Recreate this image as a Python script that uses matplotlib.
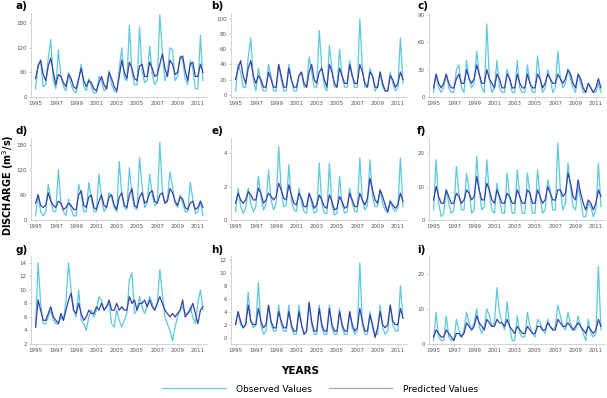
import numpy as np
import matplotlib
matplotlib.use("Agg")
import matplotlib.pyplot as plt
from matplotlib.lines import Line2D

OBS_COLOR = "#5cc9df"
PRED_COLOR = "#3a3fa6"

# quarterly samples, Jan 1995 .. Jul 2011
years = 1995 + 0.25 * np.arange(67)
year_ticks = list(range(1995, 2012, 2))

obs_a = [20, 80, 85, 25, 30, 95, 140, 40, 20, 115, 50, 25, 15, 60, 30, 15,
         10, 40, 80, 25, 15, 45, 25, 10, 10, 50, 40, 15, 20, 65, 30, 15,
         10, 70, 120, 45, 40, 175, 60, 30, 30, 170, 65, 35, 40, 125, 55, 30,
         40, 200, 110, 40, 60, 120, 115, 40, 50, 100, 90, 45, 30, 90, 70, 20,
         20, 150, 40]
pred_a = [45, 75, 90, 55, 40, 75, 95, 60, 30, 55, 50, 35, 25, 55, 45, 25,
          20, 45, 70, 40, 25, 40, 35, 20, 15, 35, 50, 30, 20, 60, 45, 25,
          15, 50, 90, 60, 45, 85, 70, 45, 40, 75, 80, 50, 50, 85, 70, 50,
          55, 80, 105, 70, 50, 90, 80, 55, 60, 95, 100, 65, 40, 80, 85, 50,
          50, 80, 60]

obs_b = [5, 40, 30, 10, 10, 50, 75, 20, 5, 35, 15, 5, 5, 40, 25, 5,
         5, 40, 20, 5, 5, 40, 20, 5, 5, 25, 30, 10, 10, 50, 30, 10,
         10, 85, 35, 10, 5, 65, 35, 10, 10, 60, 25, 10, 10, 45, 25, 10,
         10, 100, 35, 10, 10, 35, 25, 5, 10, 30, 10, 5, 5, 30, 15, 5,
         10, 75, 15]
pred_b = [20, 35, 45, 25, 15, 35, 45, 25, 15, 25, 20, 10, 10, 30, 20, 10,
          10, 40, 25, 10, 10, 35, 20, 10, 10, 25, 30, 15, 10, 30, 40, 20,
          15, 30, 35, 20, 10, 40, 30, 15, 10, 35, 25, 15, 15, 40, 25, 15,
          15, 40, 30, 15, 10, 30, 25, 10, 10, 30, 15, 5, 5, 25, 20, 10,
          15, 30, 20]

obs_c = [5, 25, 10, 5, 10, 25, 10, 5, 5, 30, 35, 10, 5, 40, 20, 10,
         15, 50, 25, 10, 5, 80, 20, 5, 10, 40, 10, 5, 5, 30, 20, 5,
         5, 40, 10, 5, 5, 35, 15, 5, 5, 45, 20, 5, 10, 30, 20, 5,
         10, 50, 20, 10, 15, 30, 20, 10, 5, 25, 15, 5, 5, 15, 10, 5,
         5, 15, 5]
pred_c = [10, 25, 15, 10, 15, 25, 15, 10, 10, 20, 25, 15, 15, 30, 20, 15,
          20, 35, 25, 15, 15, 30, 20, 15, 10, 25, 20, 10, 10, 25, 20, 10,
          10, 25, 15, 10, 10, 25, 15, 10, 10, 25, 20, 10, 15, 25, 20, 15,
          15, 25, 20, 15, 20, 30, 25, 15, 10, 25, 20, 10, 5, 15, 10, 5,
          10, 20, 10]

obs_d = [10, 60, 20, 10, 20, 85, 50, 20, 20, 120, 40, 20, 10, 50, 25, 10,
         10, 85, 60, 20, 20, 90, 50, 20, 20, 110, 50, 20, 30, 65, 55, 30,
         20, 140, 60, 30, 25, 125, 60, 30, 25, 150, 80, 30, 40, 110, 60, 35,
         40, 185, 70, 40, 50, 115, 80, 40, 30, 60, 40, 20, 20, 90, 50, 15,
         20, 45, 10]
pred_d = [40, 60, 35, 30, 35, 65, 45, 35, 30, 45, 40, 25, 30, 40, 35, 25,
          25, 60, 70, 35, 30, 55, 60, 30, 25, 45, 60, 35, 30, 55, 60, 35,
          25, 55, 65, 35, 30, 60, 75, 35, 30, 55, 65, 40, 45, 65, 70, 45,
          40, 60, 65, 40, 45, 75, 65, 45, 35, 55, 50, 30, 25, 40, 45, 25,
          30, 45, 30]

obs_e = [0.5, 1.9, 0.8, 0.4, 0.7, 1.9, 1.0, 0.5, 0.8, 2.6, 1.4, 0.6, 0.9, 3.0, 1.2, 0.6,
         1.0, 4.4, 1.8, 0.8, 0.9, 3.3, 1.2, 0.6, 0.5, 1.9, 1.0, 0.5, 0.4, 1.6, 1.0, 0.4,
         0.5, 3.4, 1.0, 0.4, 0.4, 3.4, 0.9, 0.3, 0.4, 2.6, 0.9, 0.4, 0.5, 1.9, 1.0, 0.5,
         0.5, 3.7, 1.2, 0.6, 0.9, 3.6, 1.4, 0.8, 0.8, 1.8, 1.0, 0.6, 0.4, 1.2, 0.7, 0.5,
         0.7, 3.7, 0.8]
pred_e = [1.0, 1.6, 1.2, 1.0, 1.2, 1.7, 1.5, 1.2, 1.2, 1.9, 1.6, 1.0, 1.2, 1.6, 1.4, 1.2,
          1.4, 2.2, 1.8, 1.3, 1.2, 2.1, 1.5, 1.0, 0.9, 1.6, 1.3, 0.8, 0.8, 1.6, 1.2, 0.7,
          0.9, 1.5, 1.2, 0.8, 0.7, 1.5, 1.1, 0.6, 0.7, 1.4, 1.1, 0.7, 0.8, 1.6, 1.2, 0.8,
          0.8, 1.6, 1.2, 0.9, 1.3, 2.5, 1.8, 1.2, 1.0, 1.8, 1.4, 0.9, 0.5, 1.1, 0.9, 0.7,
          0.9, 1.6, 1.1]

obs_f = [3, 18, 5, 1, 2, 9, 5, 2, 3, 16, 8, 3, 3, 14, 9, 2,
         3, 19, 9, 3, 4, 18, 8, 3, 2, 11, 6, 2, 2, 14, 7, 2,
         2, 15, 7, 2, 2, 14, 8, 2, 2, 15, 7, 2, 3, 12, 9, 3,
         3, 23, 9, 3, 5, 17, 10, 4, 3, 10, 6, 1, 1, 5, 4, 1,
         3, 17, 4]
pred_f = [6, 10, 7, 5, 5, 9, 7, 5, 5, 8, 7, 5, 6, 9, 8, 6,
          7, 13, 9, 6, 6, 11, 9, 6, 5, 9, 7, 5, 5, 8, 7, 5,
          5, 9, 7, 5, 5, 9, 8, 5, 5, 9, 7, 5, 6, 10, 8, 6,
          6, 9, 9, 7, 8, 14, 11, 7, 6, 12, 8, 5, 3, 6, 5, 3,
          5, 9, 7]

obs_g = [4.5, 14.0, 8.0, 5.0, 5.0, 6.0, 7.0, 5.5, 5.0, 5.0, 6.0, 5.5, 8.5, 14.0, 10.0, 7.0,
         6.0, 10.0, 5.5, 5.0, 4.0, 6.0, 7.0, 6.0, 7.0, 9.0, 8.5, 7.0, 7.5, 8.0, 5.0, 4.5,
         7.0, 5.5, 4.5, 5.5, 6.5, 11.5, 12.5, 6.5, 7.0, 9.0, 7.5, 6.5, 7.5, 9.0, 8.0, 7.0,
         8.0, 13.0, 9.5, 6.0, 5.0, 4.0, 2.5, 4.5, 6.0, 7.0, 7.5, 6.5, 6.5, 7.5, 6.0, 5.0,
         8.0, 10.0, 7.0]
pred_g = [4.5, 8.5, 7.0, 5.5, 5.5, 6.5, 7.5, 6.0, 5.5, 5.0, 6.5, 5.5, 7.0, 8.5, 9.5, 7.0,
          6.5, 8.0, 6.5, 5.5, 6.0, 7.0, 6.5, 6.5, 7.5, 7.0, 8.0, 7.0, 7.5, 8.5, 7.0, 7.0,
          8.0, 7.0, 7.5, 7.0, 7.0, 9.0, 8.0, 8.5, 7.0, 8.0, 8.0, 8.5, 7.5, 8.5, 7.5, 7.0,
          8.0, 9.0, 8.0, 7.0, 6.5, 6.0, 6.5, 6.0, 6.5, 7.0, 8.5, 6.0, 6.5, 7.0, 8.0, 6.5,
          5.0, 7.0, 7.5]

obs_h = [2.0, 4.0, 2.0, 1.5, 2.0, 7.0, 2.5, 1.5, 2.0, 8.5, 2.0, 0.5, 1.0, 5.0, 2.0, 1.0,
         1.0, 5.0, 2.0, 1.0, 1.0, 5.0, 1.5, 0.5, 0.5, 5.0, 2.0, 0.5, 1.0, 5.0, 2.0, 0.5,
         0.5, 5.0, 1.5, 0.5, 0.5, 5.0, 1.5, 0.5, 0.5, 4.5, 1.5, 0.5, 0.5, 4.0, 1.5, 0.5,
         1.0, 11.5, 2.0, 0.5, 0.5, 4.0, 1.5, 0.5, 0.5, 5.0, 1.5, 0.5, 1.0, 5.0, 2.0, 1.0,
         1.0, 8.0, 3.0]
pred_h = [2.0, 4.0, 2.5, 1.5, 2.0, 5.0, 2.5, 2.0, 2.0, 4.5, 2.5, 1.5, 2.0, 5.0, 2.5, 1.5,
          1.5, 4.0, 2.5, 1.5, 1.5, 4.0, 2.0, 1.0, 1.0, 4.0, 2.0, 0.5, 1.0, 5.5, 2.5, 1.0,
          1.0, 4.5, 2.0, 1.0, 1.0, 4.5, 2.0, 1.0, 1.0, 4.0, 2.0, 1.0, 1.0, 4.0, 2.0, 1.0,
          1.5, 4.5, 2.5, 1.0, 1.0, 3.5, 2.0, 0.0, 1.5, 4.0, 2.0, 1.5, 2.0, 5.0, 2.5, 2.0,
          2.0, 4.5, 3.0]

obs_i = [1, 9, 2, 1, 1, 8, 2, 1, 1, 7, 4, 2, 4, 9, 6, 4,
         6, 10, 5, 3, 5, 10, 8, 5, 6, 16, 9, 6, 4, 12, 5, 1,
         1, 8, 3, 2, 2, 9, 5, 3, 2, 7, 6, 4, 3, 7, 5, 4,
         5, 11, 8, 5, 4, 9, 6, 4, 4, 8, 5, 3, 1, 7, 3, 2,
         3, 22, 4]
pred_i = [2, 4, 3, 2, 2, 4, 3, 2, 1, 3, 3, 2, 3, 6, 5, 4,
          5, 8, 6, 5, 4, 7, 6, 5, 5, 7, 6, 6, 5, 7, 5, 4,
          3, 5, 4, 3, 3, 5, 4, 3, 3, 5, 5, 4, 4, 6, 5, 4,
          4, 7, 6, 5, 5, 6, 5, 4, 5, 6, 5, 4, 3, 5, 4, 3,
          4, 7, 5]

labels = ["a)", "b)", "c)", "d)", "e)", "f)", "g)", "h)", "i)"]
observed = [obs_a, obs_b, obs_c, obs_d, obs_e, obs_f, obs_g, obs_h, obs_i]
predicted = [pred_a, pred_b, pred_c, pred_d, pred_e, pred_f, pred_g, pred_h, pred_i]
yticks = [
    [0, 60, 120, 180], [0, 20, 40, 60, 80, 100], [0, 30, 60, 90],
    [0, 60, 120, 180], [0, 2, 4], [0, 10, 20],
    [2, 4, 6, 8, 10, 12, 14], [0, 2, 4, 6, 8, 10, 12], [0, 10, 20],
]
ylims = [
    (0, 205), (-3, 108), (0, 92),
    (0, 196), (0, 4.9), (0, 24.5),
    (2, 15), (-1, 12.6), (0, 25),
]

W, H = 607, 398
fig = plt.figure(figsize=(W / 100, H / 100), dpi=100)

col_left = [31, 231, 429]
label_x = [16, 211, 417]
row_top = [13, 138, 256]
row_bottom = [97, 220, 344]
label_y = [6, 131, 250]
ax_w = 176

for i in range(9):
    r, c = divmod(i, 3)
    x0 = col_left[c]
    y0 = row_bottom[r]
    h = row_bottom[r] - row_top[r]
    ax = fig.add_axes([x0 / W, 1 - y0 / H, ax_w / W, h / H])
    ax.plot(years, observed[i], color=OBS_COLOR, lw=0.9)
    ax.plot(years, predicted[i], color=PRED_COLOR, lw=0.9)
    ax.set_xlim(1994.55, 2011.9)
    ax.set_ylim(*ylims[i])
    ax.set_xticks(year_ticks)
    ax.set_xticks(range(1995, 2012), minor=True)
    ax.set_yticks(yticks[i])
    ax.tick_params(labelsize=4, colors="#bbbbbb", labelcolor="#555555",
                   length=1.5, width=0.5, pad=1.5)
    ax.tick_params(which="minor", length=1, width=0.4, colors="#cccccc")
    for s in ["top", "right"]:
        ax.spines[s].set_visible(False)
    for s in ["left", "bottom"]:
        ax.spines[s].set_color("#cccccc")
        ax.spines[s].set_linewidth(0.6)
    fig.text(label_x[c] / W, 1 - label_y[r] / H, labels[i],
             fontsize=7.5, fontweight="bold", ha="left", va="center")

fig.text(8 / W, 1 - 185 / H, "DISCHARGE (m$^3$/s)", rotation=90,
         fontsize=7, fontweight="bold", ha="center", va="center")
fig.text(300 / W, 1 - 371 / H, "YEARS", fontsize=7.5, fontweight="bold",
         ha="center", va="center")

handles = [Line2D([], [], color=OBS_COLOR, lw=0.8),
           Line2D([], [], color=PRED_COLOR, lw=0.8, alpha=0.5)]
fig.legend(handles, ["Observed Values", "Predicted Values"], loc="center",
           bbox_to_anchor=(320 / W, 1 - 389 / H), ncol=2, frameon=False,
           fontsize=6.5, handlelength=7, columnspacing=1.8, handletextpad=1.2)

fig.savefig("out.png", dpi=100)
